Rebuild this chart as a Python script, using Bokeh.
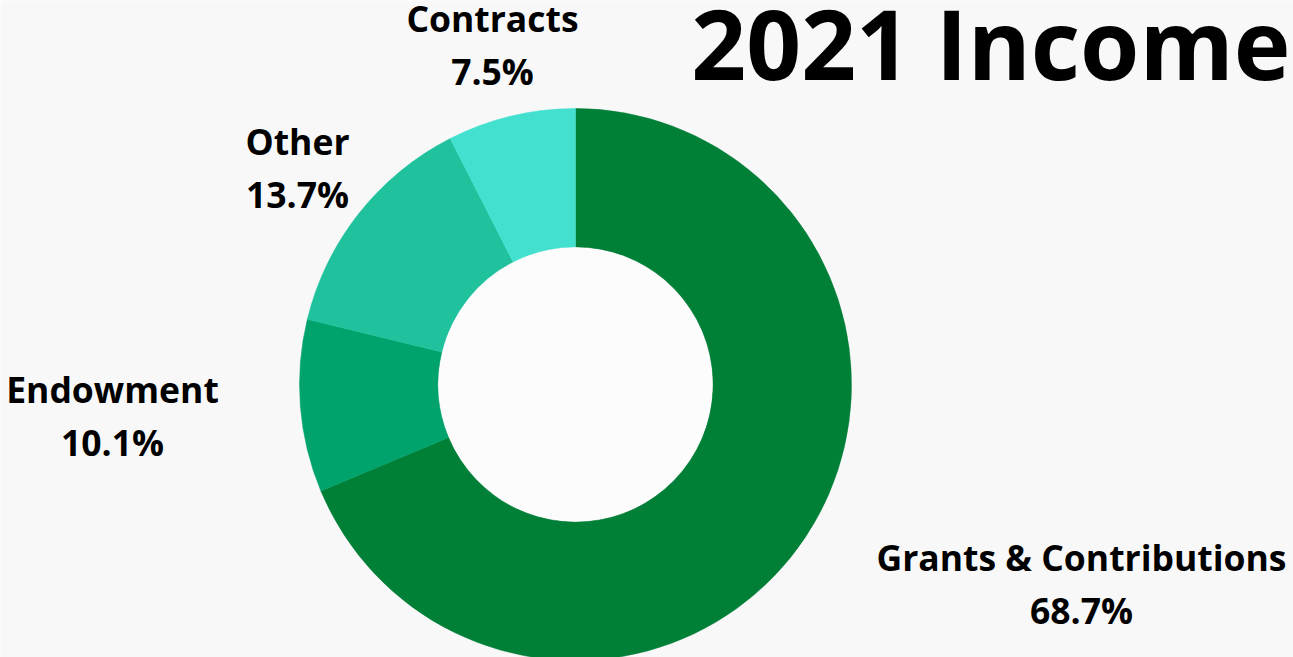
import math
from bokeh.plotting import figure
from bokeh.models import Range1d, ColumnDataSource, Label
from bokeh.core.properties import value
from bokeh.embed import file_html
from bokeh.resources import INLINE

# ---- data ----
categories = ["Grants & Contributions", "Endowment", "Other", "Contracts"]
shares = [68.7, 10.1, 13.7, 7.5]
colors = ["#007F37", "#00A36B", "#1FC29C", "#43E0CF"]
pct_labels = ["68.7%", "10.1%", "13.7%", "7.5%"]
title_text = "2021 Income"

# ---- layout (screen-pixel mapping) ----
W, H = 1293, 657
SCREEN_H = 657

def sy(y):  # screen y -> data y
    return SCREEN_H - y

p = figure(width=W, height=H, output_backend="svg", toolbar_location=None,
           x_range=Range1d(0, W), y_range=Range1d(sy(H), sy(0)),
           min_border=0, outline_line_color=None)
p.axis.visible = False
p.grid.visible = False
p.background_fill_color = "#f8f8f9"
p.border_fill_color = "#f8f8f9"

cx, cy = 575, sy(384)
r_in, r_out = 137.5, 276

total = sum(shares)
starts, ends = [], []
cum = 0.0
for s in shares:
    starts.append(math.pi / 2 - 2 * math.pi * cum / total)
    cum += s
    ends.append(math.pi / 2 - 2 * math.pi * cum / total)

src = ColumnDataSource(dict(cat=categories, start=starts, end=ends, color=colors))
p.annular_wedge(x=cx, y=cy, inner_radius=r_in, outer_radius=r_out,
                start_angle="start", end_angle="end", direction="clock",
                fill_color="color", line_color="color", line_width=0.5, source=src)
p.circle(x=cx, y=cy, radius=r_in - 0.5, fill_color="#fcfcfd", line_color=None)

# labels
SHIFT = 12
lab_x = {"Grants & Contributions": 1081, "Endowment": 112, "Other": 297, "Contracts": 492}
lab_y = {"Grants & Contributions": 568, "Endowment": 400, "Other": 152, "Contracts": 29}
lsrc = ColumnDataSource(dict(
    x=[lab_x[c] for c in categories],
    y1=[sy(lab_y[c] - SHIFT) for c in categories],
    y2=[sy(lab_y[c] + 53 - SHIFT) for c in categories],
    name=categories, pct=pct_labels))
font = value("Open Sans")
p.text(x="x", y="y1", text="name", source=lsrc, text_font=font, text_font_style="bold",
       text_font_size="35.5px", text_align="center", text_baseline="alphabetic", text_color="#000000")
p.text(x="x", y="y2", text="pct", source=lsrc, text_font=font, text_font_style="bold",
       text_font_size="35.5px", text_align="center", text_baseline="alphabetic", text_color="#000000")

title = Label(x=1290, y=sy(42), text=title_text, text_font="Open Sans", text_font_style="bold",
              text_font_size="96px", text_align="right", text_baseline="alphabetic", text_color="#000000")
p.add_layout(title)

open("out.html", "w").write(file_html(p, INLINE))
